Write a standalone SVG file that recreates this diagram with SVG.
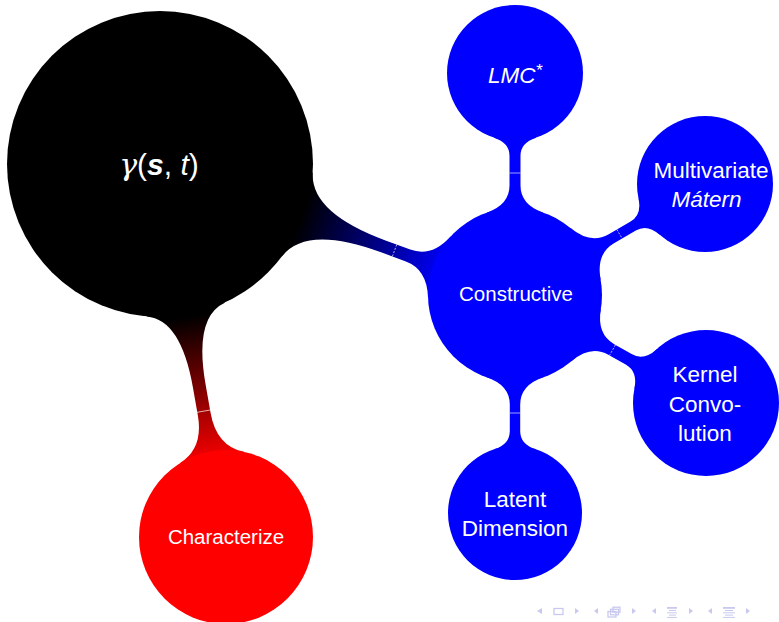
<svg xmlns="http://www.w3.org/2000/svg" width="779" height="622" viewBox="0 0 779 622">
<style>
.lbl{font-family:"Liberation Sans",Arial,sans-serif;fill:#fff;text-anchor:middle}
.l1{font-size:20.5px}
.l2{font-size:22.5px}
.seam{stroke:#fff;stroke-width:0.8;stroke-opacity:0.8;fill:none}
.dash{stroke-dasharray:2 1.5}
.nav{fill:#c9c9ef}
.navs{fill:none;stroke:#c9c9ef;stroke-width:1.3}
</style>
<defs>
<linearGradient id="gBK" gradientUnits="userSpaceOnUse" x1="150" y1="0" x2="305" y2="0">
<stop offset="0" stop-color="#000"/><stop offset="1" stop-color="#00f"/>
</linearGradient>
<linearGradient id="gBR" gradientUnits="userSpaceOnUse" x1="155" y1="0" x2="305" y2="0">
<stop offset="0" stop-color="#000"/><stop offset="1" stop-color="#f00"/>
</linearGradient>
</defs>
<rect width="779" height="622" fill="#fff"/>
<g id="connectors">
<g transform="translate(160,164) rotate(20.25)">
<path fill="url(#gBK)" d="M0,0 L146.3,44.7 Q158.05,6.3 238,6.3 L264.4,6.3 Q287.1,6.3 297.7,32.6 L378.4,0 L297.7,-32.6 Q287.1,-6.3 264.4,-6.3 L238,-6.3 Q158.05,-6.3 146.3,-44.7 Z"/>
<line class="seam dash" x1="250" y1="-6.3" x2="250" y2="6.3"/>
</g>
<g transform="translate(160,164) rotate(79.97)">
<path fill="url(#gBR)" d="M0,0 L147.8,39.6 Q156.7,6.5 225.3,6.5 L253.9,6.5 Q287.6,6.5 298.1,32.6 L378.8,0 L298.1,-32.6 Q287.6,-6.5 253.9,-6.5 L225.3,-6.5 Q156.7,-6.5 147.8,-39.6 Z"/>
<line class="seam" x1="251" y1="-7" x2="251" y2="7"/>
</g>
<g transform="translate(515,295) rotate(-90)">
<path fill="#00f" d="M0,0 L82.3,28.3 Q90.15,5.5 109.4,5.5 L139.2,5.5 Q152.3,5.5 157.3,21 L222,0 L157.3,-21 Q152.3,-5.5 139.2,-5.5 L109.4,-5.5 Q90.15,-5.5 82.3,-28.3 Z"/>
<line class="seam" x1="122" y1="-5.5" x2="122" y2="5.5"/>
</g>
<g transform="translate(515,295) rotate(90)">
<path fill="#00f" d="M0,0 L82.3,28.3 Q90.2,5.2 109.7,5.2 L136.3,5.2 Q149.3,5.2 154.3,20.7 L218,0 L154.3,-20.7 Q149.3,-5.2 136.3,-5.2 L109.7,-5.2 Q90.2,-5.2 82.3,-28.3 Z"/>
<line class="seam" x1="118" y1="-5.2" x2="118" y2="5.2"/>
</g>
<g transform="translate(515,295) rotate(-30.3)">
<path fill="#00f" d="M0,0 L81.75,29.75 Q90.7,5.2 111.6,5.2 L136.9,5.2 Q150.2,5.2 155.3,21 L220,0 L155.3,-21 Q150.2,-5.2 136.9,-5.2 L111.6,-5.2 Q90.7,-5.2 81.75,-29.75 Z"/>
<line class="seam dash" x1="121" y1="-5.2" x2="121" y2="5.2"/>
</g>
<g transform="translate(515,295) rotate(29.5)">
<path fill="#00f" d="M0,0 L81.75,29.75 Q90.4,6 110.6,6 L130.6,6 Q144.6,6 150,22.6 L219.4,0 L150,-22.6 Q144.6,-6 130.6,-6 L110.6,-6 Q90.4,-6 81.75,-29.75 Z"/>
<line class="seam dash" x1="112" y1="-6" x2="112" y2="6"/>
</g>
</g>
<g id="node-gamma">
<circle cx="160" cy="164" r="153" fill="#000"/>
<text class="lbl" x="159" y="175" font-size="30"><tspan font-style="italic" font-family="'DejaVu Serif',serif">γ</tspan>(<tspan font-style="italic" font-weight="bold">s</tspan>, <tspan font-style="italic">t</tspan>)</text>
</g>
<g id="node-characterize">
<circle cx="226" cy="537" r="87" fill="#f00"/>
<text class="lbl l1" x="226" y="544">Characterize</text>
</g>
<g id="node-constructive">
<circle cx="515" cy="295" r="87" fill="#00f"/>
<text class="lbl l1" x="516" y="301">Constructive</text>
</g>
<g id="node-lmc">
<circle cx="515" cy="73" r="68" fill="#00f"/>
<text class="lbl l2" x="515" y="83" font-style="italic">LMC<tspan font-size="17" dy="-7">*</tspan></text>
</g>
<g id="node-matern">
<circle cx="705" cy="184" r="68" fill="#00f"/>
<text class="lbl l2" x="711" y="178">Multivariate</text>
<text class="lbl l2" x="706.5" y="206.7" font-style="italic">Mátern</text>
</g>
<g id="node-kernel">
<circle cx="706" cy="403" r="73" fill="#00f"/>
<text class="lbl l2" x="705" y="382">Kernel</text>
<text class="lbl l2" x="705" y="411.5">Convo-</text>
<text class="lbl l2" x="705" y="441">lution</text>
</g>
<g id="node-latent">
<circle cx="515" cy="513" r="67" fill="#00f"/>
<text class="lbl l2" x="515" y="507">Latent</text>
<text class="lbl l2" x="515" y="535.5">Dimension</text>
</g>
<g id="nav">
<polygon class="nav" points="542,608 537,611 542,614"/>
<rect class="navs" x="554" y="608.5" width="9" height="6"/>
<polygon class="nav" points="575,608 579,611 575,614"/>
<polygon class="nav" points="598,608 594,611 598,614"/>
<rect class="navs" x="608" y="611.5" width="8" height="5.5"/>
<rect class="navs" x="610.5" y="609.3" width="8" height="5.5"/>
<rect class="navs" x="613" y="607.2" width="7" height="5"/>
<polygon class="nav" points="632,608 636,611 632,614"/>
<polygon class="nav" points="656,608 652,611 656,614"/>
<rect class="nav" x="667" y="607" width="10" height="1.8"/>
<rect class="nav" x="669" y="610" width="7" height="1"/>
<rect class="nav" x="667" y="612.3" width="10" height="1"/>
<rect class="nav" x="669" y="614.6" width="7" height="1"/>
<rect class="nav" x="667" y="616.9" width="10" height="1"/>
<polygon class="nav" points="689,608 693,611 689,614"/>
<polygon class="nav" points="712,608 708,611 712,614"/>
<rect class="nav" x="723" y="607" width="12" height="1.8"/>
<rect class="nav" x="725" y="610" width="8" height="1"/>
<rect class="nav" x="723" y="612.3" width="12" height="1"/>
<rect class="nav" x="725" y="614.6" width="8" height="1"/>
<rect class="nav" x="723" y="616.9" width="12" height="1"/>
<polygon class="nav" points="746,608 750,611 746,614"/>
</g>
</svg>
